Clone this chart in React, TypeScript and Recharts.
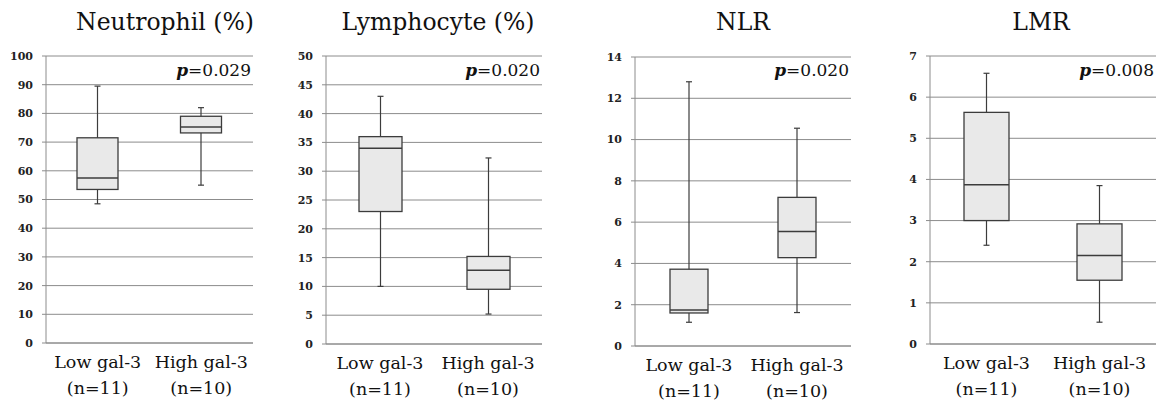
import { ComposedChart, Bar, XAxis, YAxis, CartesianGrid } from "recharts"

// five-number summaries: min, q1, median, q3, max
const categories = ["Low gal-3", "High gal-3"]
const groupSizes = ["(n=11)", "(n=10)"]

const neutrophilLow = [48.5, 53.5, 57.5, 71.5, 89.5]
const neutrophilHigh = [55, 73.2, 75.3, 79, 82]
const lymphocyteLow = [10, 23, 34, 36, 43]
const lymphocyteHigh = [5.2, 9.5, 12.8, 15.2, 32.3]
const nlrLow = [1.15, 1.6, 1.75, 3.72, 12.8]
const nlrHigh = [1.62, 4.28, 5.55, 7.2, 10.55]
const lmrLow = [2.4, 3.0, 3.87, 5.63, 6.58]
const lmrHigh = [0.53, 1.55, 2.15, 2.92, 3.85]

const neutrophilTicks = [0, 10, 20, 30, 40, 50, 60, 70, 80, 90, 100]
const lymphocyteTicks = [0, 5, 10, 15, 20, 25, 30, 35, 40, 45, 50]
const nlrTicks = [0, 2, 4, 6, 8, 10, 12, 14]
const lmrTicks = [0, 1, 2, 3, 4, 5, 6, 7]

const titles = ["Neutrophil (%)", "Lymphocyte (%)", "NLR", "LMR"]
const pValues = ["0.029", "0.020", "0.020", "0.008"]

const FONT = "'DejaVu Serif', serif"
const GRID = "#8c8c8c"
const BOX_FILL = "#e9e9e9"
const BOX_STROKE = "#3c3c3c"

function makeRows(low: number[], high: number[]) {
  return [low, high].map((s, i) => ({
    name: categories[i],
    n: groupSizes[i],
    range: [s[0], s[4]],
    min: s[0], q1: s[1], med: s[2], q3: s[3], max: s[4],
  }))
}

const panels = [
  { rows: makeRows(neutrophilLow, neutrophilHigh), ticks: neutrophilTicks, left: 46, right: 253, top: 56, bottom: 343, box: 41, titleX: 165 },
  { rows: makeRows(lymphocyteLow, lymphocyteHigh), ticks: lymphocyteTicks, left: 326, right: 542, top: 56, bottom: 344, box: 43, titleX: 438 },
  { rows: makeRows(nlrLow, nlrHigh), ticks: nlrTicks, left: 635, right: 851, top: 57, bottom: 346, box: 38, titleX: 743 },
  { rows: makeRows(lmrLow, lmrHigh), ticks: lmrTicks, left: 930, right: 1156, top: 56, bottom: 344, box: 45, titleX: 1041 },
]

function BoxShape(props: any) {
  const { x, y, width, height, payload } = props
  const top = Math.min(y, y + height)
  const bot = Math.max(y, y + height)
  const span = payload.max - payload.min
  const py = (v: number) => bot - ((v - payload.min) / span) * (bot - top)
  const cx = x + width / 2
  const cap = 3
  return (
    <g>
      <line x1={cx} x2={cx} y1={py(payload.max)} y2={py(payload.min)} stroke={BOX_STROKE} strokeWidth={1.2} />
      <line x1={cx - cap} x2={cx + cap} y1={py(payload.max)} y2={py(payload.max)} stroke={BOX_STROKE} strokeWidth={1.2} />
      <line x1={cx - cap} x2={cx + cap} y1={py(payload.min)} y2={py(payload.min)} stroke={BOX_STROKE} strokeWidth={1.2} />
      <rect x={x} y={py(payload.q3)} width={width} height={py(payload.q1) - py(payload.q3)} fill={BOX_FILL} stroke={BOX_STROKE} strokeWidth={1.3} />
      <line x1={x} x2={x + width} y1={py(payload.med)} y2={py(payload.med)} stroke={BOX_STROKE} strokeWidth={1.5} />
    </g>
  )
}

function GroupTick(props: any) {
  const { x, y, payload, index } = props
  return (
    <text x={x} y={y} textAnchor="middle" style={{ fontFamily: FONT, fontSize: 17.5 }} fill="#111">
      <tspan x={x} dy={17}>{payload.value}</tspan>
      <tspan x={x} dy={26}>{groupSizes[index]}</tspan>
    </text>
  )
}

export default function App() {
  return (
    <div style={{ position: "absolute", left: 0, top: 0, width: 1161, height: 402, background: "#fff" }}>
      {panels.map((p, i) => {
        const yw = 45
        const xh = 50
        return (
          <div key={i} style={{ position: "absolute", left: p.left - yw, top: 0 }}>
            <ComposedChart
              width={yw + (p.right - p.left) + 4}
              height={402}
              data={p.rows}
              margin={{ top: p.top, right: 4, left: 0, bottom: 402 - p.bottom - xh }}
              barCategoryGap={0}
            >
              <CartesianGrid vertical={false} stroke={GRID} strokeWidth={1} />
              <XAxis dataKey="name" height={xh} axisLine={{ stroke: GRID }} tickLine={false} tick={<GroupTick />} interval={0} />
              <YAxis
                width={yw}
                domain={[p.ticks[0], p.ticks[p.ticks.length - 1]]}
                ticks={p.ticks}
                interval={0}
                axisLine={{ stroke: GRID }}
                tickLine={{ stroke: GRID }}
                tickSize={4}
                tickMargin={9}
                tick={{ style: { fontFamily: FONT, fontSize: 11, fontWeight: "bold" }, fill: "#222" }}
              />
              <Bar dataKey="range" barSize={p.box} shape={<BoxShape />} isAnimationActive={false} />
            </ComposedChart>
          </div>
        )
      })}
      <svg width={1161} height={402} style={{ position: "absolute", left: 0, top: 0, pointerEvents: "none" }}>
        {panels.map((p, i) => (
          <g key={i}>
            <text x={p.titleX} y={30} textAnchor="middle" style={{ fontFamily: FONT, fontSize: 23.5 }} fill="#111">{titles[i]}</text>
            <text x={p.right - 2} y={76} textAnchor="end" style={{ fontFamily: FONT, fontSize: 17 }} fill="#111">
              <tspan fontStyle="italic" fontWeight="bold">p</tspan>={pValues[i]}
            </text>
          </g>
        ))}
      </svg>
    </div>
  )
}
